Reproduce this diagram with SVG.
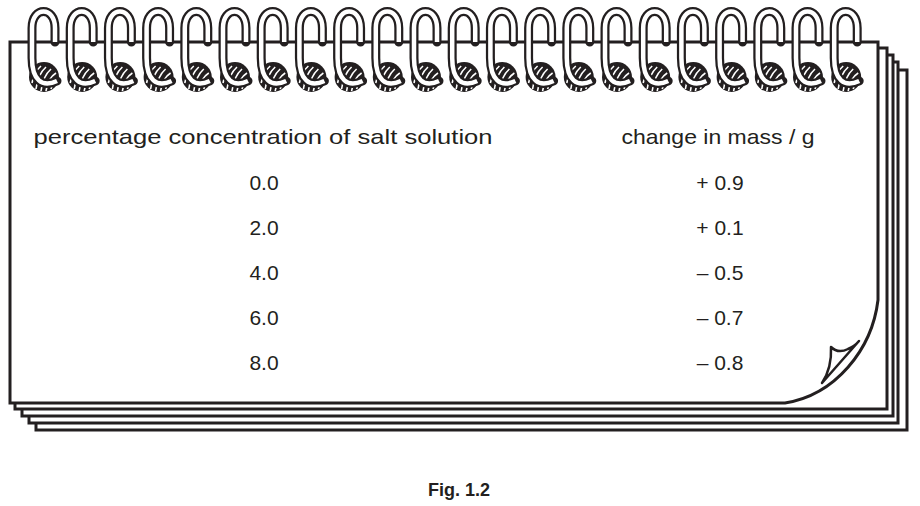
<svg xmlns="http://www.w3.org/2000/svg" xmlns:xlink="http://www.w3.org/1999/xlink" width="920" height="506" viewBox="0 0 920 506">
<style>
.pg{fill:#fff;stroke:#231f20;stroke-width:3}
.t{font-family:"Liberation Sans",Arial,sans-serif;font-size:21px;fill:#231f20;text-anchor:middle}
</style>
<defs>
<g id="ring">
<circle cx="-3" cy="-1" r="15" fill="#231f20"/>
<g fill="none" stroke="#fff" stroke-width="1.6">
<path d="M-15,5 Q-13,-6 -6,-12"/><path d="M-11,11 Q-9,-4 -1,-11"/><path d="M-6,13 Q-4,-2 4,-9"/><path d="M-1,13 Q1,0 9,-5"/><path d="M4,11 Q6,3 11,0"/>
</g>
<path d="M8,-36 L8,-50 C8,-72 -15,-72 -15,-50 L-15,-20 C-15,2 -5,10 10,3" fill="none" stroke="#231f20" stroke-width="9" stroke-linecap="round"/>
<path d="M8,-36 L8,-50 C8,-72 -15,-72 -15,-50 L-15,-20 C-15,2 -5,10 10,3" fill="none" stroke="#fff" stroke-width="4.5"/>
</g>
</defs>
<rect width="920" height="506" fill="#fff"/>
<g id="pages">
<rect class="pg" x="36" y="70" width="871" height="360"/>
<rect class="pg" x="29" y="62" width="869" height="361"/>
<rect class="pg" x="22" y="55" width="871" height="361"/>
<rect class="pg" x="15" y="48" width="872" height="361"/>
<path class="pg" d="M10,42 L878,42 L878,300 C872,350 835,395 785,403 L10,403 Z"/>
<path d="M831,347 Q838,354 848,349 Q855,346 859,341 L822,383 Q832,368 831,347 Z" fill="#fff" stroke="#231f20" stroke-width="2.5" stroke-linejoin="round"/>
<line x1="822" y1="383" x2="859" y2="341" stroke="#231f20" stroke-width="1"/>
</g>
<g id="rings">
<use xlink:href="#ring" x="47" y="78"/><use xlink:href="#ring" x="85.2" y="78"/><use xlink:href="#ring" x="123.4" y="78"/><use xlink:href="#ring" x="161.6" y="78"/><use xlink:href="#ring" x="199.8" y="78"/><use xlink:href="#ring" x="238" y="78"/><use xlink:href="#ring" x="276.2" y="78"/><use xlink:href="#ring" x="314.4" y="78"/><use xlink:href="#ring" x="352.6" y="78"/><use xlink:href="#ring" x="390.8" y="78"/><use xlink:href="#ring" x="429" y="78"/><use xlink:href="#ring" x="467.2" y="78"/><use xlink:href="#ring" x="505.4" y="78"/><use xlink:href="#ring" x="543.6" y="78"/><use xlink:href="#ring" x="581.8" y="78"/><use xlink:href="#ring" x="620" y="78"/><use xlink:href="#ring" x="658.2" y="78"/><use xlink:href="#ring" x="696.4" y="78"/><use xlink:href="#ring" x="734.6" y="78"/><use xlink:href="#ring" x="772.8" y="78"/><use xlink:href="#ring" x="811" y="78"/><use xlink:href="#ring" x="849.2" y="78"/>
</g>
<g id="table">
<text class="t" x="263" y="144" textLength="459" lengthAdjust="spacingAndGlyphs">percentage concentration of salt solution</text>
<text class="t" x="718" y="144" textLength="193" lengthAdjust="spacingAndGlyphs">change in mass / g</text>
<text class="t" x="264" y="190">0.0</text><text class="t" x="720" y="190">+ 0.9</text>
<text class="t" x="264" y="235">2.0</text><text class="t" x="720" y="235">+ 0.1</text>
<text class="t" x="264" y="280">4.0</text><text class="t" x="720" y="280">– 0.5</text>
<text class="t" x="264" y="325">6.0</text><text class="t" x="720" y="325">– 0.7</text>
<text class="t" x="264" y="370">8.0</text><text class="t" x="720" y="370">– 0.8</text>
</g>
<text x="459" y="496" font-family="Liberation Sans,Arial,sans-serif" font-size="18" font-weight="bold" text-anchor="middle" fill="#231f20">Fig. 1.2</text>
</svg>
